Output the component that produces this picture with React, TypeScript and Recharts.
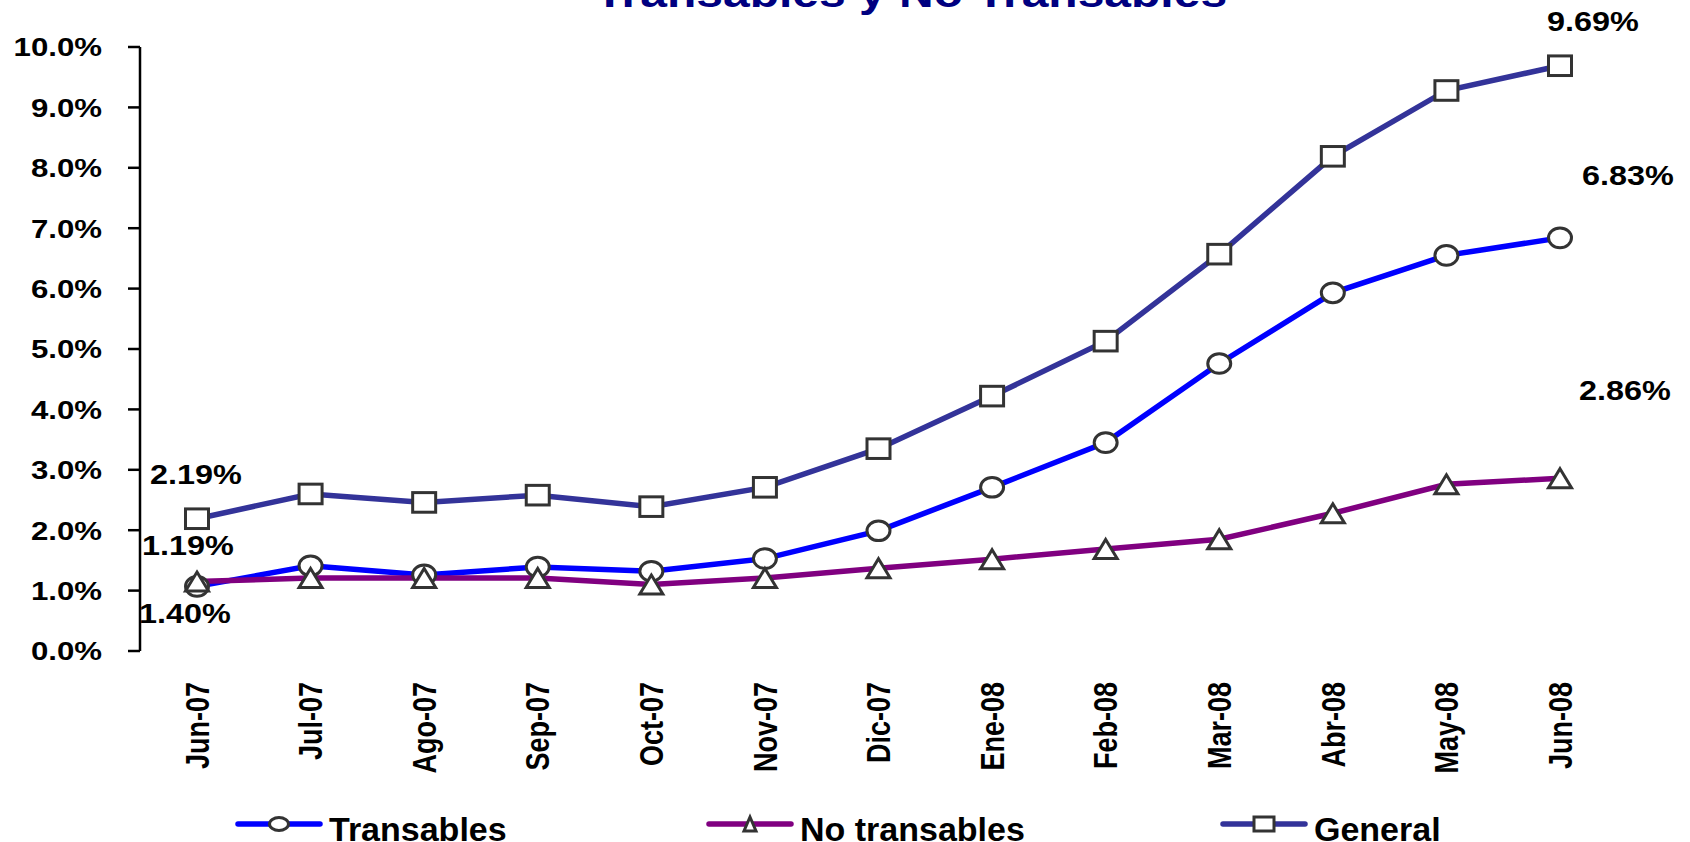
import React from 'react';
import { LineChart, Line, XAxis, YAxis, Legend, LabelList } from 'recharts';

const months = ['Jun-07', 'Jul-07', 'Ago-07', 'Sep-07', 'Oct-07', 'Nov-07', 'Dic-07', 'Ene-08', 'Feb-08', 'Mar-08', 'Abr-08', 'May-08', 'Jun-08'];
const transables = [1.07, 1.41, 1.26, 1.39, 1.32, 1.53, 1.99, 2.71, 3.45, 4.76, 5.93, 6.55, 6.84];
const noTransables = [1.15, 1.21, 1.21, 1.21, 1.10, 1.21, 1.37, 1.52, 1.69, 1.85, 2.28, 2.76, 2.86];
const general = [2.19, 2.60, 2.46, 2.58, 2.39, 2.71, 3.35, 4.22, 5.13, 6.57, 8.19, 9.28, 9.69];
const yTicks = [0, 1, 2, 3, 4, 5, 6, 7, 8, 9, 10];
const bandTicks = [0, 1, 2, 3, 4, 5, 6, 7, 8, 9, 10, 11, 12, 13];
const transablesEndLabels = ['1.40%', '6.83%'];
const noTransablesEndLabels = ['1.19%', '2.86%'];
const generalEndLabels = ['2.19%', '9.69%'];
const seriesNames = ['Transables', 'No transables', 'General'];
const title = 'Transables y No Transables';

const data = months.map((m, i) => ({
  month: m,
  transables: transables[i],
  noTransables: noTransables[i],
  general: general[i],
}));

const FONT = '"Liberation Sans", Arial, Helvetica, sans-serif';
const COL_T = '#0000FF';
const COL_N = '#800080';
const COL_G = '#333399';
const MARK = '#333333';

const EllipseDot = (p: any) =>
  p.cx == null ? null : (
    <ellipse key={`e${p.index}`} cx={p.cx} cy={p.cy} rx={11.5} ry={9.8} fill="#fff" stroke={MARK} strokeWidth={3} />
  );
const SquareDot = (p: any) =>
  p.cx == null ? null : (
    <rect key={`s${p.index}`} x={p.cx - 11.5} y={p.cy - 9.8} width={23} height={19.6} fill="#fff" stroke={MARK} strokeWidth={3} />
  );
const TriDot = (p: any) =>
  p.cx == null ? null : (
    <path
      key={`t${p.index}`}
      d={`M${p.cx},${p.cy - 9.5} L${p.cx + 11.5},${p.cy + 9.5} L${p.cx - 11.5},${p.cy + 9.5} Z`}
      fill="#fff"
      stroke={MARK}
      strokeWidth={3}
      strokeLinejoin="miter"
    />
  );

const YTick = (p: any) => (
  <text
    transform={`translate(${p.x - 24},${p.y}) scale(1.2,1)`}
    textAnchor="end"
    dy="0.36em"
    fontSize={26}
    fontWeight="bold"
    fontFamily={FONT}
    fill="#000"
  >
    {Number(p.payload.value).toFixed(1)}%
  </text>
);

const XTick = (p: any) => (
  <text
    transform={`translate(${p.x},${p.y + 31}) rotate(-90) scale(1,1.2)`}
    textAnchor="end"
    dy="0.36em"
    fontSize={27}
    fontWeight="bold"
    fontFamily={FONT}
    fill="#000"
  >
    {p.payload.value}
  </text>
);

const makeEndLabel = (labels: string[], first: [number, number], last: [number, number]) => (p: any) => {
  const n = months.length;
  if (p.index !== 0 && p.index !== n - 1) return null;
  const off = p.index === 0 ? first : last;
  const txt = p.index === 0 ? labels[0] : labels[1];
  return (
    <text
      key={`l${p.index}`}
      transform={`translate(${p.x + off[0]},${p.y + off[1]}) scale(1.2,1)`}
      textAnchor="middle"
      dy="0.36em"
      fontSize={27}
      fontWeight="bold"
      fontFamily={FONT}
      fill="#000"
    >
      {txt}
    </text>
  );
};

const legendX = [238, 709, 1223];
const legendColors = [COL_T, COL_N, COL_G];

const LegendContent = () => {
  const cy = 32;
  return (
    <svg width={1690} height={50} style={{ overflow: 'visible', display: 'block' }}>
      {seriesNames.map((name, i) => {
        const x0 = legendX[i];
        const mx = x0 + 41;
        return (
          <g key={name}>
            <line x1={x0} y1={cy} x2={x0 + 82} y2={cy} stroke={legendColors[i]} strokeWidth={5.5} strokeLinecap="round" />
            {i === 0 && <ellipse cx={mx} cy={cy} rx={9.5} ry={6.5} fill="#fff" stroke={MARK} strokeWidth={3} />}
            {i === 1 && (
              <path d={`M${mx},${cy - 7} L${mx + 6},${cy + 7} L${mx - 6},${cy + 7} Z`} fill="#fff" stroke={MARK} strokeWidth={3} />
            )}
            {i === 2 && <rect x={mx - 10} y={cy - 7} width={20} height={14} fill="#fff" stroke={MARK} strokeWidth={3} />}
            <text x={x0 + 91} y={48.5} fontSize={34} fontWeight="bold" fontFamily={FONT} fill="#000">
              {name}
            </text>
          </g>
        );
      })}
    </svg>
  );
};

export default function App() {
  return (
    <div style={{ position: 'absolute', left: 0, top: 0, width: 1690, height: 842, background: '#fff' }}>
      <LineChart width={1690} height={842} data={data} margin={{ top: 47, right: 73, bottom: 0, left: 0 }}>
        <text
          transform="translate(911,7) scale(1.2,1)"
          textAnchor="middle"
          fontSize={40}
          fontWeight="bold"
          fontFamily={FONT}
          fill="#000080"
        >
          {title}
        </text>
        <XAxis
          xAxisId={0}
          type="number"
          domain={[0, 13]}
          ticks={bandTicks}
          allowDataOverflow
          height={0}
          tick={false}
          tickSize={7}
          axisLine={{ stroke: '#000', strokeWidth: 2.5 }}
          tickLine={{ stroke: '#000', strokeWidth: 2.5 }}
        />
        <XAxis
          xAxisId={1}
          dataKey="month"
          type="category"
          padding={{ left: 57, right: 57 }}
          height={141}
          interval={0}
          tickSize={0}
          tickMargin={0}
          axisLine={false}
          tickLine={false}
          tick={<XTick />}
        />
        <YAxis
          type="number"
          domain={[0, 10]}
          ticks={yTicks}
          interval={0}
          width={140}
          tickSize={12}
          axisLine={{ stroke: '#000', strokeWidth: 2.5 }}
          tickLine={{ stroke: '#000', strokeWidth: 2.5 }}
          tick={<YTick />}
        />
        <Legend verticalAlign="bottom" content={<LegendContent />} wrapperStyle={{ left: 0, bottom: 0, width: 1690, height: 50 }} />
        <Line
          xAxisId={1}
          name={seriesNames[2]}
          dataKey="general"
          stroke={COL_G}
          strokeWidth={5.5}
          dot={SquareDot}
          activeDot={false}
          isAnimationActive={false}
        >
          <LabelList dataKey="general" content={makeEndLabel(generalEndLabels, [-1, -44], [33, -44])} />
        </Line>
        <Line
          xAxisId={1}
          name={seriesNames[0]}
          dataKey="transables"
          stroke={COL_T}
          strokeWidth={5.5}
          dot={EllipseDot}
          activeDot={false}
          isAnimationActive={false}
        >
          <LabelList dataKey="transables" content={makeEndLabel(transablesEndLabels, [-12, 27], [68, -63])} />
        </Line>
        <Line
          xAxisId={1}
          name={seriesNames[1]}
          dataKey="noTransables"
          stroke={COL_N}
          strokeWidth={5.5}
          dot={TriDot}
          activeDot={false}
          isAnimationActive={false}
        >
          <LabelList dataKey="noTransables" content={makeEndLabel(noTransablesEndLabels, [-9, -36], [65, -88])} />
        </Line>
      </LineChart>
    </div>
  );
}
